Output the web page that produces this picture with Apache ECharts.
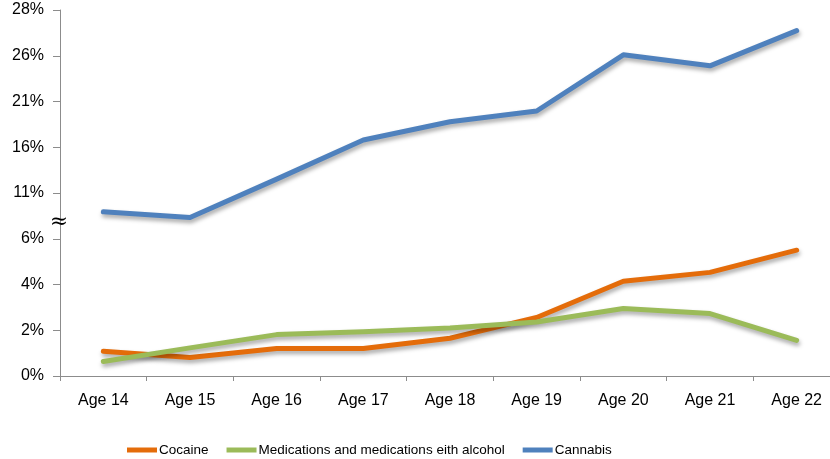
<!DOCTYPE html>
<html>
<head>
<meta charset="utf-8">
<script src="https://cdn.jsdelivr.net/npm/echarts@6/dist/echarts.min.js"></script>
<style>
  html, body { margin: 0; padding: 0; background: #fff; overflow: hidden; }
  /* the plot runs slightly past the right edge of the window */
  #chart { width: 840px; height: 459px; }
</style>
</head>
<body>
<div id="chart"></div>
<script>
// Age groups on the horizontal axis
const categories = ['Age 14', 'Age 15', 'Age 16', 'Age 17', 'Age 18', 'Age 19', 'Age 20', 'Age 21', 'Age 22'];

// Share of users (%) per substance
const cocaine = [1.08, 0.81, 1.20, 1.20, 1.65, 2.56, 4.14, 4.53, 5.50];
const medications = [0.63, 1.23, 1.81, 1.93, 2.10, 2.36, 2.95, 2.73, 1.56];
const cannabis = [8.94, 8.33, 12.52, 16.79, 18.79, 19.96, 26.04, 24.90, 27.10];

// Broken y-axis: evenly spaced ticks carrying these percentages
const tickValues = [0, 2, 4, 6, 11, 16, 21, 26, 28];

// Map a percentage onto the evenly spaced tick index scale
function toAxis(v) {
  for (let i = 0; i < tickValues.length - 1; i++) {
    const a = tickValues[i], b = tickValues[i + 1];
    if (v <= b || i === tickValues.length - 2) {
      return i + (v - a) / (b - a);
    }
  }
  return 0;
}

const shadow = {
  shadowColor: 'rgba(0,0,0,0.35)',
  shadowBlur: 4,
  shadowOffsetX: 1,
  shadowOffsetY: 3
};

function lineSeries(name, values, color) {
  return {
    name: name,
    type: 'line',
    data: values.map(toAxis),
    symbol: 'none',
    showSymbol: false,
    itemStyle: { color: color },
    lineStyle: Object.assign({ color: color, width: 5, cap: 'round', join: 'round' }, shadow),
    z: 3
  };
}

const chart = echarts.init(document.getElementById('chart'), null, { renderer: 'canvas' });

chart.setOption({
  animation: false,
  backgroundColor: '#ffffff',
  grid: { left: 60, top: 10, right: 0, height: 366, containLabel: false },
  xAxis: {
    type: 'category',
    data: categories,
    boundaryGap: true,
    axisLine: { lineStyle: { color: '#8c8c8c', width: 1 } },
    axisTick: { show: true, length: 5, lineStyle: { color: '#8c8c8c' } },
    axisLabel: {
      color: '#000',
      fontSize: 16,
      fontFamily: '"Liberation Sans", Arial, sans-serif',
      margin: 17
    },
    splitLine: { show: false }
  },
  yAxis: {
    type: 'value',
    min: 0,
    max: tickValues.length - 1,
    interval: 1,
    axisLine: { show: true, lineStyle: { color: '#8c8c8c', width: 1 } },
    axisTick: { show: true, length: 7, lineStyle: { color: '#8c8c8c' } },
    axisLabel: {
      color: '#000',
      fontSize: 16,
      fontFamily: '"Liberation Sans", Arial, sans-serif',
      margin: 16,
      formatter: function (v) {
        const t = tickValues[Math.round(v)];
        return t === undefined ? '' : t + '%';
      }
    },
    splitLine: { show: false }
  },
  legend: {
    left: 127,
    top: 443,
    padding: 0,
    icon: 'rect',
    itemWidth: 30,
    itemHeight: 5,
    itemGap: 18,
    textStyle: {
      color: '#000',
      fontSize: 13.5,
      fontFamily: '"Liberation Sans", Arial, sans-serif',
      padding: [0, 0, 0, -3]
    },
    data: ['Cocaine', 'Medications and medications eith alcohol', 'Cannabis']
  },
  graphic: [
    {
      type: 'text',
      x: 59,
      y: 222,
      z: 10,
      style: {
        text: '≈',
        fill: '#000',
        font: '22px "DejaVu Serif", serif',
        align: 'center',
        verticalAlign: 'middle'
      }
    }
  ],
  series: [
    lineSeries('Cocaine', cocaine, '#e46c0a'),
    lineSeries('Medications and medications eith alcohol', medications, '#9bbb59'),
    lineSeries('Cannabis', cannabis, '#4f81bd')
  ]
});
</script>
</body>
</html>
